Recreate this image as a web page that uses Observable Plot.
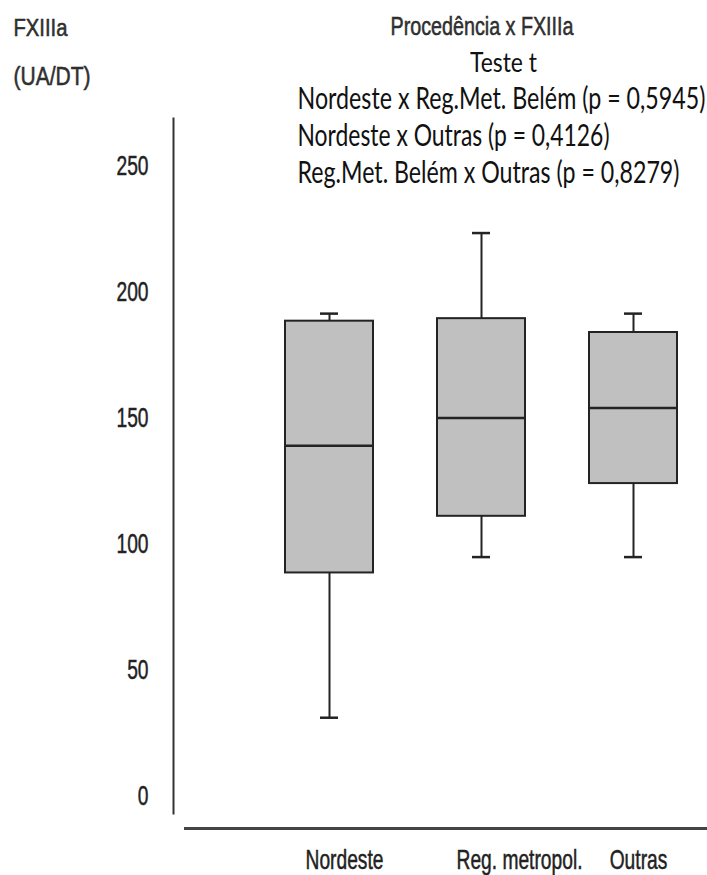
<!DOCTYPE html>
<html>
<head>
<meta charset="utf-8">
<script src="https://cdn.jsdelivr.net/npm/d3@7"></script>
<script src="https://cdn.jsdelivr.net/npm/@observablehq/plot@0.6"></script>
<style>
  html, body { margin: 0; padding: 0; background: #fff; }
  #chart { width: 707px; height: 875px; }
</style>
</head>
<body>
<div id="chart"></div>
<script>
// ---- data ----
const categories  = ["Nordeste", "Reg. metropol.", "Outras"];
const whiskerLow  = [31, 94.8, 94.8];
const quartile1   = [88.5, 111, 124];
const medians     = [139, 150, 154];
const quartile3   = [188.5, 189.5, 184];
const whiskerHigh = [191.5, 223.5, 191.5];
const yTicks      = [0, 50, 100, 150, 200, 250];

const yLabelLines = ["FXIIIa", "(UA/DT)"];
const titleText   = "Procedência x FXIIIa";
const testText    = "Teste t";
const statsLines  = [
  "Nordeste x Reg.Met. Belém (p = 0,5945)",
  "Nordeste x Outras (p = 0,4126)",
  "Reg.Met. Belém x Outras (p = 0,8279)"
];

const boxes = categories.map((cat, i) => ({
  cat, low: whiskerLow[i], q1: quartile1[i], med: medians[i], q3: quartile3[i], high: whiskerHigh[i]
}));

const narrow = "Liberation Sans, Arial, sans-serif";
const humanist = "Lato, 'Open Sans', sans-serif";
const ink = "#232323";

const svg = Plot.plot({
  width: 707,
  height: 875,
  marginLeft: 173,
  marginRight: 0,
  marginTop: 118,
  marginBottom: 47,
  style: {background: "#fff", fontFamily: narrow},
  x: {domain: categories, paddingInner: 0.4225, paddingOuter: 0.4575, align: 0.788, axis: null},
  y: {domain: [-13, 269]},
  marks: [
    // axis lines
    Plot.frame({anchor: "left", insetBottom: 15, stroke: "#333", strokeWidth: 2}),
    Plot.frame({anchor: "bottom", insetLeft: 12, stroke: "#444", strokeWidth: 3}),
    Plot.axisY({ticks: yTicks, tickSize: 0, tickPadding: 25, label: null,
                fontSize: 28, fontFamily: narrow, fill: "#222"}),
    // whiskers
    Plot.ruleX(boxes, {x: "cat", y1: "low", y2: "q1", stroke: ink, strokeWidth: 2}),
    Plot.ruleX(boxes, {x: "cat", y1: "q3", y2: "high", stroke: ink, strokeWidth: 2}),
    Plot.tickY(boxes, {x: "cat", y: "low", insetLeft: 35, insetRight: 35, stroke: ink, strokeWidth: 2.5}),
    Plot.tickY(boxes, {x: "cat", y: "high", insetLeft: 35, insetRight: 35, stroke: ink, strokeWidth: 2.5}),
    // boxes
    Plot.barY(boxes, {x: "cat", y1: "q1", y2: "q3", fill: "#c0c0c0", stroke: ink, strokeWidth: 2}),
    Plot.tickY(boxes, {x: "cat", y: "med", stroke: ink, strokeWidth: 2.5}),
    // category labels
    Plot.text([categories[0]], {x: d => d, text: d => d, frameAnchor: "bottom", lineAnchor: "middle", dy: 32, dx: 15,
                                fontSize: 28, fontFamily: narrow, fill: "#222"}),
    Plot.text([categories[1]], {x: d => d, text: d => d, frameAnchor: "bottom", lineAnchor: "middle", dy: 32, dx: 38,
                                fontSize: 28, fontFamily: narrow, fill: "#222"}),
    Plot.text([categories[2]], {x: d => d, text: d => d, frameAnchor: "bottom", lineAnchor: "middle", dy: 32, dx: 5,
                                fontSize: 28, fontFamily: narrow, fill: "#222"}),
    // y label
    Plot.text([yLabelLines[0]], {text: d => d, frameAnchor: "top-left", textAnchor: "start", lineAnchor: "middle",
                                 dx: -160, dy: -90, fontSize: 23, fontFamily: narrow, fill: "#333"}),
    Plot.text([yLabelLines[1]], {text: d => d, frameAnchor: "top-left", textAnchor: "start", lineAnchor: "middle",
                                 dx: -160, dy: -42, fontSize: 25, fontFamily: narrow, fill: "#333"}),
    // title block
    Plot.text([titleText], {text: d => d, frameAnchor: "top", textAnchor: "middle", lineAnchor: "middle",
                            dx: 41.5, dy: -92, fontSize: 25, fontFamily: narrow, fill: "#333"}),
    Plot.text([testText], {text: d => d, frameAnchor: "top", textAnchor: "middle", lineAnchor: "middle",
                           dx: 63, dy: -55.5, fontSize: 27, fontFamily: humanist, fill: "#111"}),
    Plot.text([statsLines[0]], {text: d => d, frameAnchor: "top-left", textAnchor: "start", lineAnchor: "middle",
                                dx: 124, dy: -19, fontSize: 30, fontFamily: humanist, fill: "#111"}),
    Plot.text([statsLines[1]], {text: d => d, frameAnchor: "top-left", textAnchor: "start", lineAnchor: "middle",
                                dx: 124, dy: 18, fontSize: 30, fontFamily: humanist, fill: "#111"}),
    Plot.text([statsLines[2]], {text: d => d, frameAnchor: "top-left", textAnchor: "start", lineAnchor: "middle",
                                dx: 124, dy: 54.5, fontSize: 30, fontFamily: humanist, fill: "#111"})
  ]
});

document.getElementById("chart").append(svg);

// horizontally condensed lettering, as in the reference
const widths = new Map([
  [yLabelLines[0], 54], [yLabelLines[1], 77], [titleText, 183], [testText, 67],
  [statsLines[0], 408], [statsLines[1], 312], [statsLines[2], 382]
]);
const humanistTexts = new Set([testText, ...statsLines]);
svg.querySelectorAll("text").forEach(t => {
  const s = t.textContent;
  const w = widths.has(s) ? widths.get(s) : t.getComputedTextLength() * 0.686;
  t.setAttribute("textLength", w);
  t.setAttribute("lengthAdjust", "spacingAndGlyphs");
  if (!humanistTexts.has(s)) {
    // the reference's narrow lettering is slightly heavier
    t.setAttribute("stroke", "#222");
    t.setAttribute("stroke-width", "0.5");
  }
});
</script>
</body>
</html>
